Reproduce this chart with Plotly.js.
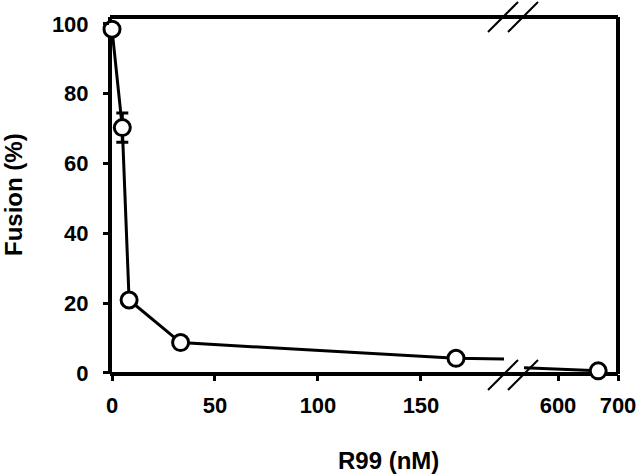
<!DOCTYPE html>
<html>
<head>
<meta charset="utf-8">
<script src="https://cdn.plot.ly/plotly-3.0.1.min.js"></script>
<style>html,body{margin:0;padding:0;background:#fff;}#chart{width:640px;height:475px;}</style>
</head>
<body>
<div id="chart"></div>
<script>
// Data
const conc = [0, 5, 8.3, 33.3, 167, 667];          // R99 (nM)
const fusion = [98.5, 70.3, 20.9, 8.7, 4.2, 0.6];   // Fusion (%)
const fusionErr = [0, 4.2, 0, 0, 0, 0];
const leftTicks = [0, 50, 100, 150];
const rightTicks = [600, 700];
const yTicks = [0, 20, 40, 60, 80, 100];

const leftMax = 190.3, rightMin = 543.3;
const FONT = {family: '"Liberation Sans", Arial, sans-serif', color: '#000', size: 22, weight: 'bold'};

const leftIdx = conc.map((c, i) => i).filter(i => conc[i] <= leftMax);
const rightIdx = conc.map((c, i) => i).filter(i => conc[i] >= rightMin);

const lineStyle = {color: '#000', width: 3};
const markerStyle = {symbol: 'circle', size: 16, color: '#fff', line: {color: '#000', width: 3}};
const errStyle = (idx) => ({type: 'data', array: idx.map(i => fusionErr[i]), visible: true, color: '#000', thickness: 3, width: 6});

const traces = [
  {x: conc, y: fusion, xaxis: 'x', yaxis: 'y', mode: 'lines', line: lineStyle, hoverinfo: 'skip', showlegend: false},
  {x: conc, y: fusion, xaxis: 'x2', yaxis: 'y', mode: 'lines', line: lineStyle, hoverinfo: 'skip', showlegend: false},
  {x: leftIdx.map(i => conc[i]), y: leftIdx.map(i => fusion[i]), error_y: errStyle(leftIdx),
   xaxis: 'x', yaxis: 'y', mode: 'markers', marker: markerStyle, cliponaxis: false, showlegend: false},
  {x: rightIdx.map(i => conc[i]), y: rightIdx.map(i => fusion[i]), error_y: errStyle(rightIdx),
   xaxis: 'x2', yaxis: 'y', mode: 'markers', marker: markerStyle, cliponaxis: false, showlegend: false}
];

const W = 508, H = 357, L = 110, T = 17;
const px = v => (v - L) / W;
const py = v => (T + H - v) / H;
const d1 = px(504), d2 = px(524);

const frame = {color: '#000', width: 4};
const brk = {color: '#000', width: 2};
const shapes = [
  {type: 'line', xref: 'paper', yref: 'paper', x0: 0, x1: 1, y0: 0, y1: 0, line: frame, layer: 'below'},
  {type: 'line', xref: 'paper', yref: 'paper', x0: 0, x1: 1, y0: 1, y1: 1, line: frame, layer: 'below'},
  {type: 'line', xref: 'paper', yref: 'paper', x0: 0, x1: 0, y0: 0, y1: 1, line: frame, layer: 'below'},
  {type: 'line', xref: 'paper', yref: 'paper', x0: 1, x1: 1, y0: 0, y1: 1, line: frame, layer: 'below'},
  // axis-break marks
  {type: 'line', xref: 'paper', yref: 'paper', x0: px(488), y0: py(390), x1: px(518), y1: py(360), line: brk},
  {type: 'line', xref: 'paper', yref: 'paper', x0: px(508), y0: py(390), x1: px(538), y1: py(360), line: brk},
  {type: 'line', xref: 'paper', yref: 'paper', x0: px(488), y0: py(32), x1: px(518), y1: py(2), line: brk},
  {type: 'line', xref: 'paper', yref: 'paper', x0: px(508), y0: py(32), x1: px(538), y1: py(2), line: brk}
];

const xCommon = {showline: false, zeroline: false, showgrid: false, ticks: 'outside', ticklen: 6, tickwidth: 3,
  tickcolor: '#000', tickfont: FONT, ticklabelstandoff: 6, anchor: 'y', fixedrange: true};

const layout = {
  width: 640, height: 475,
  margin: {l: L, r: 640 - L - W, t: T, b: 475 - T - H, pad: 0},
  paper_bgcolor: '#fff', plot_bgcolor: '#fff',
  font: FONT,
  showlegend: false,
  xaxis: Object.assign({}, xCommon, {domain: [0, d1], range: [-0.97, leftMax], tickmode: 'array', tickvals: leftTicks, ticktext: leftTicks.map(String)}),
  xaxis2: Object.assign({}, xCommon, {domain: [d2, 1], range: [rightMin, 700], tickmode: 'array', tickvals: rightTicks, ticktext: rightTicks.map(String)}),
  yaxis: {range: [-0.3, 102], showline: false, zeroline: false, showgrid: false, ticks: 'outside', ticklen: 6, tickwidth: 3,
    tickcolor: '#000', tickfont: FONT, tickmode: 'array', tickvals: yTicks, ticktext: yTicks.map(String), ticklabelstandoff: 10, anchor: 'x', fixedrange: true},
  shapes: shapes,
  annotations: [
    {text: 'R99 (nM)', xref: 'paper', yref: 'paper', x: px(388.5), y: py(460), xanchor: 'center', yanchor: 'middle',
     showarrow: false, font: Object.assign({}, FONT, {size: 24})},
    {text: 'Fusion (%)', xref: 'paper', yref: 'paper', x: px(13), y: py(195), xanchor: 'center', yanchor: 'middle',
     textangle: -90, showarrow: false, font: Object.assign({}, FONT, {size: 24})}
  ]
};

Plotly.newPlot('chart', traces, layout, {staticPlot: true, displayModeBar: false});
</script>
</body>
</html>
